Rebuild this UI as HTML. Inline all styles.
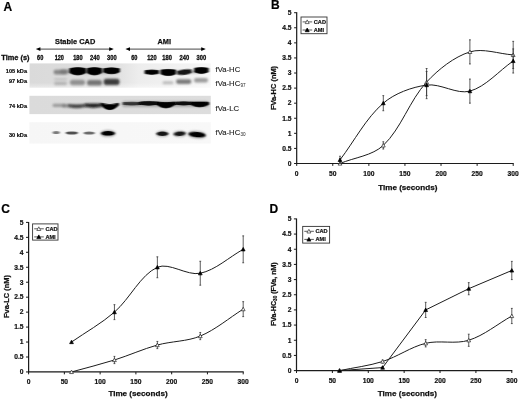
<!DOCTYPE html>
<html><head><meta charset="utf-8"><title>Figure</title>
<style>
html,body{margin:0;padding:0;background:#fff;}
body{width:520px;height:399px;overflow:hidden;font-family:"Liberation Sans",sans-serif;}
svg{display:block;}
</style></head><body>
<svg width="520" height="399" viewBox="0 0 520 399">
<defs>
<filter id="b1" x="-30%" y="-80%" width="160%" height="260%"><feGaussianBlur stdDeviation="1.0 0.75"/></filter>
<filter id="b2" x="-30%" y="-80%" width="160%" height="260%"><feGaussianBlur stdDeviation="1.1 0.8"/></filter>
<filter id="soft" x="0" y="0" width="520" height="399" filterUnits="userSpaceOnUse"><feGaussianBlur stdDeviation="0.35"/></filter>
<filter id="b3" x="-40%" y="-100%" width="180%" height="300%"><feGaussianBlur stdDeviation="0.8 0.65"/></filter>
<linearGradient id="g1" x1="0" x2="1" y1="0" y2="0"><stop offset="0" stop-color="#dadada"/><stop offset="0.46" stop-color="#dedede"/><stop offset="0.6" stop-color="#ededed"/><stop offset="0.9" stop-color="#f3f3f3"/><stop offset="1" stop-color="#f7f7f7"/></linearGradient>
<linearGradient id="g1v" x1="0" x2="0" y1="0" y2="1"><stop offset="0" stop-color="#fff" stop-opacity="0"/><stop offset="0.8" stop-color="#fff" stop-opacity="0"/><stop offset="1" stop-color="#fff" stop-opacity="0.45"/></linearGradient>
<linearGradient id="g2" x1="0" x2="1" y1="0" y2="0"><stop offset="0" stop-color="#dbdbdb"/><stop offset="1" stop-color="#dddddd"/></linearGradient>
<linearGradient id="g3" x1="0" x2="1" y1="0" y2="0"><stop offset="0" stop-color="#f6f6f6"/><stop offset="1" stop-color="#f8f8f8"/></linearGradient>
</defs>
<rect width="520" height="399" fill="#fff"/>
<g filter="url(#soft)">
<text x="3.60" y="10.70" font-family="Liberation Sans, sans-serif" font-weight="bold" font-size="12" fill="#000" stroke="#000" stroke-width="0.2">A</text>
<text x="270.90" y="9.40" font-family="Liberation Sans, sans-serif" font-weight="bold" font-size="12" fill="#000" stroke="#000" stroke-width="0.2">B</text>
<text x="1.20" y="212.70" font-family="Liberation Sans, sans-serif" font-weight="bold" font-size="12" fill="#000" stroke="#000" stroke-width="0.2">C</text>
<text x="269.40" y="213.00" font-family="Liberation Sans, sans-serif" font-weight="bold" font-size="12" fill="#000" stroke="#000" stroke-width="0.2">D</text>
<rect x="29.6" y="63.4" width="181.2" height="24.2" fill="url(#g1)"/>
<rect x="29.6" y="63.4" width="181.2" height="24.2" fill="url(#g1v)"/>
<rect x="29.4" y="95.8" width="181.4" height="18.3" fill="url(#g2)"/>
<rect x="29.4" y="122.2" width="181.4" height="21.4" fill="url(#g3)"/>
<rect x="53.50" y="69.80" width="14.00" height="4.60" rx="2.30" ry="2.30" fill="#555" opacity="0.62" filter="url(#b2)"/>
<rect x="60.00" y="69.50" width="59.00" height="4.00" rx="2.00" ry="2.00" fill="#666" opacity="0.50" filter="url(#b2)"/>
<path d="M69.80 68.50 Q77.80 66.70 85.80 68.50 L85.80 72.70 Q77.80 77.30 69.80 72.70 Z" fill="#000" opacity="1.00" filter="url(#b1)" stroke="#000" stroke-width="0.8" stroke-linejoin="round"/>
<path d="M87.10 68.50 Q94.40 66.70 101.70 68.50 L101.70 72.70 Q94.40 77.30 87.10 72.70 Z" fill="#000" opacity="1.00" filter="url(#b1)" stroke="#000" stroke-width="0.8" stroke-linejoin="round"/>
<path d="M103.60 68.70 Q111.50 66.90 119.40 68.70 L119.40 71.90 Q111.50 75.70 103.60 71.90 Z" fill="#000" opacity="1.00" filter="url(#b1)" stroke="#000" stroke-width="0.8" stroke-linejoin="round"/>
<rect x="54.00" y="78.60" width="13.00" height="1.40" rx="0.70" ry="0.70" fill="#777" opacity="0.35" filter="url(#b2)"/>
<rect x="54.00" y="81.80" width="13.00" height="3.40" rx="1.70" ry="1.70" fill="#777" opacity="0.40" filter="url(#b2)"/>
<rect x="70.00" y="79.80" width="15.00" height="5.40" rx="2.70" ry="2.70" fill="#555" opacity="0.55" filter="url(#b2)"/>
<rect x="87.00" y="80.00" width="15.00" height="5.60" rx="2.80" ry="2.80" fill="#444" opacity="0.68" filter="url(#b2)"/>
<rect x="103.60" y="78.80" width="16.00" height="6.20" rx="3.10" ry="3.10" fill="#222" opacity="0.85" filter="url(#b2)"/>
<rect x="150.00" y="70.80" width="55.00" height="2.40" rx="1.20" ry="1.20" fill="#555" opacity="0.45" filter="url(#b2)"/>
<path d="M145.00 70.60 Q151.70 69.40 158.40 70.60 L158.40 73.60 Q151.70 75.20 145.00 73.60 Z" fill="#000" opacity="1.00" filter="url(#b1)" stroke="#000" stroke-width="0.8" stroke-linejoin="round"/>
<path d="M161.00 70.00 Q168.30 68.80 175.60 70.00 L175.60 74.00 Q168.30 77.20 161.00 74.00 Z" fill="#000" opacity="1.00" filter="url(#b1)" stroke="#000" stroke-width="0.8" stroke-linejoin="round"/>
<g transform="rotate(-7 184.5 72)"><path d="M177.60 70.50 Q184.40 69.10 191.20 70.50 L191.20 73.50 Q184.40 75.70 177.60 73.50 Z" fill="#111" opacity="0.95" filter="url(#b1)" stroke="#111" stroke-width="0.8" stroke-linejoin="round"/></g>
<path d="M194.60 68.20 Q201.40 66.80 208.20 68.20 L208.20 72.00 Q201.40 75.00 194.60 72.00 Z" fill="#000" opacity="1.00" filter="url(#b1)" stroke="#000" stroke-width="0.8" stroke-linejoin="round"/>
<rect x="162.50" y="81.20" width="11.00" height="3.00" rx="1.50" ry="1.50" fill="#888" opacity="0.50" filter="url(#b2)"/>
<rect x="176.00" y="79.20" width="15.40" height="4.80" rx="2.40" ry="2.40" fill="#444" opacity="0.68" filter="url(#b2)"/>
<rect x="194.00" y="78.00" width="14.00" height="4.40" rx="2.20" ry="2.20" fill="#555" opacity="0.55" filter="url(#b2)"/>
<rect x="52.50" y="103.70" width="14.00" height="3.20" rx="1.60" ry="1.60" fill="#666" opacity="0.55" filter="url(#b2)"/>
<rect x="62.00" y="104.60" width="42.00" height="2.80" rx="1.40" ry="1.40" fill="#555" opacity="0.45" filter="url(#b2)"/>
<path d="M68.00 104.70 Q76.60 105.50 85.20 104.70 L85.20 106.10 Q76.60 109.30 68.00 106.10 Z" fill="#222" opacity="0.78" filter="url(#b2)" stroke="#222" stroke-width="0.8" stroke-linejoin="round"/>
<path d="M85.00 104.10 Q93.30 103.70 101.60 104.10 L101.60 105.90 Q93.30 108.70 85.00 105.90 Z" fill="#111" opacity="0.90" filter="url(#b2)" stroke="#111" stroke-width="0.8" stroke-linejoin="round"/>
<path d="M101.00 103.20 Q109.80 106.20 118.60 103.20 L118.60 105.20 Q109.80 114.20 101.00 105.20 Z" fill="#000" opacity="1.00" filter="url(#b1)" stroke="#000" stroke-width="0.8" stroke-linejoin="round"/>
<rect x="121.80" y="101.20" width="87.20" height="5.80" rx="2.90" ry="2.90" fill="#555" opacity="0.40" filter="url(#b2)"/>
<rect x="138.00" y="102.30" width="70.20" height="2.70" rx="1.35" ry="1.35" fill="#222" opacity="0.88" filter="url(#b1)"/>
<path d="M123.20 102.60 Q132.10 102.00 141.00 102.60 L141.00 104.40 Q132.10 105.80 123.20 104.40 Z" fill="#222" opacity="0.85" filter="url(#b1)" stroke="#222" stroke-width="0.8" stroke-linejoin="round"/>
<path d="M139.80 102.10 Q148.80 100.70 157.80 102.10 L157.80 104.30 Q148.80 106.10 139.80 104.30 Z" fill="#0a0a0a" opacity="1.00" filter="url(#b1)" stroke="#0a0a0a" stroke-width="0.8" stroke-linejoin="round"/>
<path d="M156.60 102.00 Q165.90 103.60 175.20 102.00 L175.20 104.40 Q165.90 111.60 156.60 104.40 Z" fill="#000" opacity="1.00" filter="url(#b1)" stroke="#000" stroke-width="0.8" stroke-linejoin="round"/>
<path d="M175.60 102.20 Q183.70 101.20 191.80 102.20 L191.80 104.20 Q183.70 106.00 175.60 104.20 Z" fill="#111" opacity="0.95" filter="url(#b1)" stroke="#111" stroke-width="0.8" stroke-linejoin="round"/>
<path d="M190.80 102.20 Q199.60 102.00 208.40 102.20 L208.40 104.60 Q199.60 109.20 190.80 104.60 Z" fill="#000" opacity="1.00" filter="url(#b1)" stroke="#000" stroke-width="0.8" stroke-linejoin="round"/>
<ellipse cx="56.20" cy="132.40" rx="3.60" ry="1.50" fill="#444" opacity="0.70" filter="url(#b3)"/>
<ellipse cx="71.80" cy="133.00" rx="6.20" ry="1.60" fill="#333" opacity="0.85" filter="url(#b3)"/>
<ellipse cx="89.20" cy="133.00" rx="5.60" ry="1.60" fill="#444" opacity="0.78" filter="url(#b3)"/>
<ellipse cx="108.00" cy="133.40" rx="7.80" ry="3.20" fill="#333" opacity="0.50" filter="url(#b2)"/>
<ellipse cx="108.00" cy="133.30" rx="6.60" ry="2.30" fill="#000" opacity="1.00" filter="url(#b3)"/>
<ellipse cx="162.40" cy="133.80" rx="6.80" ry="3.00" fill="#444" opacity="0.40" filter="url(#b2)"/>
<ellipse cx="162.40" cy="133.80" rx="5.80" ry="2.20" fill="#0a0a0a" opacity="0.95" filter="url(#b3)"/>
<ellipse cx="179.70" cy="133.80" rx="6.90" ry="3.00" fill="#444" opacity="0.40" filter="url(#b2)"/>
<ellipse cx="179.70" cy="133.80" rx="5.90" ry="2.20" fill="#111" opacity="0.92" filter="url(#b3)" transform="rotate(-5 179.70 133.80)"/>
<ellipse cx="197.00" cy="134.80" rx="9.40" ry="3.50" fill="#333" opacity="0.50" filter="url(#b2)" transform="rotate(5 197.00 134.80)"/>
<ellipse cx="197.10" cy="134.70" rx="8.30" ry="2.60" fill="#000" opacity="1.00" filter="url(#b3)" transform="rotate(5 197.10 134.70)"/>
<text x="75.1" y="43.5" text-anchor="middle" font-family="Liberation Sans, sans-serif" font-weight="bold" font-size="7.4" fill="#111" stroke="#111" stroke-width="0.25">Stable CAD</text>
<text x="164.3" y="43.7" text-anchor="middle" font-family="Liberation Sans, sans-serif" font-weight="bold" font-size="7.4" fill="#111" stroke="#111" stroke-width="0.25">AMI</text>
<path d="M38.80 49.1 H110.80" stroke="#333" stroke-width="0.9"/>
<path d="M35.80 49.1 l4.6 -1.9 v3.8 z M113.80 49.1 l-4.6 -1.9 v3.8 z" fill="#000"/>
<path d="M128.40 49.1 H202.80" stroke="#333" stroke-width="0.9"/>
<path d="M125.40 49.1 l4.6 -1.9 v3.8 z M205.80 49.1 l-4.6 -1.9 v3.8 z" fill="#000"/>
<text x="1.3" y="60.0" font-family="Liberation Sans, sans-serif" font-weight="bold" font-size="7.4" fill="#111" stroke="#111" stroke-width="0.3">Time (s)</text>
<text x="37.10" y="60.10" textLength="6.20" lengthAdjust="spacingAndGlyphs" font-family="Liberation Sans, sans-serif" font-weight="bold" font-size="6.40" fill="#111" stroke="#111" stroke-width="0.30">60</text>
<text x="54.70" y="60.10" textLength="9.20" lengthAdjust="spacingAndGlyphs" font-family="Liberation Sans, sans-serif" font-weight="bold" font-size="6.40" fill="#111" stroke="#111" stroke-width="0.30">120</text>
<text x="73.20" y="60.10" textLength="9.40" lengthAdjust="spacingAndGlyphs" font-family="Liberation Sans, sans-serif" font-weight="bold" font-size="6.40" fill="#111" stroke="#111" stroke-width="0.30">180</text>
<text x="90.00" y="60.10" textLength="9.70" lengthAdjust="spacingAndGlyphs" font-family="Liberation Sans, sans-serif" font-weight="bold" font-size="6.40" fill="#111" stroke="#111" stroke-width="0.30">240</text>
<text x="107.10" y="60.10" textLength="9.60" lengthAdjust="spacingAndGlyphs" font-family="Liberation Sans, sans-serif" font-weight="bold" font-size="6.40" fill="#111" stroke="#111" stroke-width="0.30">300</text>
<text x="131.20" y="60.10" textLength="6.20" lengthAdjust="spacingAndGlyphs" font-family="Liberation Sans, sans-serif" font-weight="bold" font-size="6.40" fill="#111" stroke="#111" stroke-width="0.30">60</text>
<text x="147.20" y="60.10" textLength="9.50" lengthAdjust="spacingAndGlyphs" font-family="Liberation Sans, sans-serif" font-weight="bold" font-size="6.40" fill="#111" stroke="#111" stroke-width="0.30">120</text>
<text x="162.30" y="60.10" textLength="9.60" lengthAdjust="spacingAndGlyphs" font-family="Liberation Sans, sans-serif" font-weight="bold" font-size="6.40" fill="#111" stroke="#111" stroke-width="0.30">180</text>
<text x="179.60" y="60.10" textLength="9.60" lengthAdjust="spacingAndGlyphs" font-family="Liberation Sans, sans-serif" font-weight="bold" font-size="6.40" fill="#111" stroke="#111" stroke-width="0.30">240</text>
<text x="196.50" y="60.10" textLength="9.60" lengthAdjust="spacingAndGlyphs" font-family="Liberation Sans, sans-serif" font-weight="bold" font-size="6.40" fill="#111" stroke="#111" stroke-width="0.30">300</text>
<text x="27.0" y="72.50" text-anchor="end" font-family="Liberation Sans, sans-serif" font-weight="bold" font-size="5.6" fill="#111" stroke="#111" stroke-width="0.2">105 kDa</text>
<text x="27.0" y="82.80" text-anchor="end" font-family="Liberation Sans, sans-serif" font-weight="bold" font-size="5.6" fill="#111" stroke="#111" stroke-width="0.2">97 kDa</text>
<text x="27.0" y="108.00" text-anchor="end" font-family="Liberation Sans, sans-serif" font-weight="bold" font-size="5.6" fill="#111" stroke="#111" stroke-width="0.2">74 kDa</text>
<text x="27.0" y="137.00" text-anchor="end" font-family="Liberation Sans, sans-serif" font-weight="bold" font-size="5.6" fill="#111" stroke="#111" stroke-width="0.2">30 kDa</text>
<text x="215.6" y="72.40" font-family="Liberation Sans, sans-serif" font-size="8.0" fill="#1a1a1a" stroke="#1a1a1a" stroke-width="0.12" textLength="24.6" lengthAdjust="spacingAndGlyphs">fVa-HC</text>
<text x="215.6" y="85.80" font-family="Liberation Sans, sans-serif" font-size="8.0" fill="#1a1a1a" stroke="#1a1a1a" stroke-width="0.12" textLength="24.6" lengthAdjust="spacingAndGlyphs">fVa-HC</text><text x="240.4" y="87.40" font-family="Liberation Sans, sans-serif" font-size="4.6" fill="#222">97</text>
<text x="215.6" y="110.60" font-family="Liberation Sans, sans-serif" font-size="8.0" fill="#1a1a1a" stroke="#1a1a1a" stroke-width="0.12" textLength="23.4" lengthAdjust="spacingAndGlyphs">fVa-LC</text>
<text x="215.6" y="134.80" font-family="Liberation Sans, sans-serif" font-size="8.0" fill="#1a1a1a" stroke="#1a1a1a" stroke-width="0.12" textLength="24.6" lengthAdjust="spacingAndGlyphs">fVa-HC</text><text x="240.4" y="136.40" font-family="Liberation Sans, sans-serif" font-size="4.6" fill="#222">30</text>
<path d="M296.70 12.30 V163.50 H513.70" fill="none" stroke="#1a1a1a" stroke-width="1.2"/>
<path d="M294.10 163.50 H296.70" stroke="#1a1a1a" stroke-width="1"/>
<text x="291.60" y="165.80" text-anchor="end" font-family="Liberation Sans, sans-serif" font-weight="bold" font-size="6.70" fill="#111" stroke="#111" stroke-width="0.2">0</text>
<path d="M294.10 148.42 H296.70" stroke="#1a1a1a" stroke-width="1"/>
<text x="291.60" y="150.72" text-anchor="end" font-family="Liberation Sans, sans-serif" font-weight="bold" font-size="6.70" fill="#111" stroke="#111" stroke-width="0.2">0.5</text>
<path d="M294.10 133.34 H296.70" stroke="#1a1a1a" stroke-width="1"/>
<text x="291.60" y="135.64" text-anchor="end" font-family="Liberation Sans, sans-serif" font-weight="bold" font-size="6.70" fill="#111" stroke="#111" stroke-width="0.2">1</text>
<path d="M294.10 118.26 H296.70" stroke="#1a1a1a" stroke-width="1"/>
<text x="291.60" y="120.56" text-anchor="end" font-family="Liberation Sans, sans-serif" font-weight="bold" font-size="6.70" fill="#111" stroke="#111" stroke-width="0.2">1.5</text>
<path d="M294.10 103.18 H296.70" stroke="#1a1a1a" stroke-width="1"/>
<text x="291.60" y="105.48" text-anchor="end" font-family="Liberation Sans, sans-serif" font-weight="bold" font-size="6.70" fill="#111" stroke="#111" stroke-width="0.2">2</text>
<path d="M294.10 88.10 H296.70" stroke="#1a1a1a" stroke-width="1"/>
<text x="291.60" y="90.40" text-anchor="end" font-family="Liberation Sans, sans-serif" font-weight="bold" font-size="6.70" fill="#111" stroke="#111" stroke-width="0.2">2.5</text>
<path d="M294.10 73.02 H296.70" stroke="#1a1a1a" stroke-width="1"/>
<text x="291.60" y="75.32" text-anchor="end" font-family="Liberation Sans, sans-serif" font-weight="bold" font-size="6.70" fill="#111" stroke="#111" stroke-width="0.2">3</text>
<path d="M294.10 57.94 H296.70" stroke="#1a1a1a" stroke-width="1"/>
<text x="291.60" y="60.24" text-anchor="end" font-family="Liberation Sans, sans-serif" font-weight="bold" font-size="6.70" fill="#111" stroke="#111" stroke-width="0.2">3.5</text>
<path d="M294.10 42.86 H296.70" stroke="#1a1a1a" stroke-width="1"/>
<text x="291.60" y="45.16" text-anchor="end" font-family="Liberation Sans, sans-serif" font-weight="bold" font-size="6.70" fill="#111" stroke="#111" stroke-width="0.2">4</text>
<path d="M294.10 27.78 H296.70" stroke="#1a1a1a" stroke-width="1"/>
<text x="291.60" y="30.08" text-anchor="end" font-family="Liberation Sans, sans-serif" font-weight="bold" font-size="6.70" fill="#111" stroke="#111" stroke-width="0.2">4.5</text>
<path d="M294.10 12.70 H296.70" stroke="#1a1a1a" stroke-width="1"/>
<text x="291.60" y="15.00" text-anchor="end" font-family="Liberation Sans, sans-serif" font-weight="bold" font-size="6.70" fill="#111" stroke="#111" stroke-width="0.2">5</text>
<path d="M296.70 163.50 V165.90" stroke="#1a1a1a" stroke-width="1"/>
<text x="296.70" y="176.20" text-anchor="middle" font-family="Liberation Sans, sans-serif" font-weight="bold" font-size="6.70" fill="#111" stroke="#111" stroke-width="0.2">0</text>
<path d="M332.78 163.50 V165.90" stroke="#1a1a1a" stroke-width="1"/>
<text x="332.78" y="176.20" text-anchor="middle" font-family="Liberation Sans, sans-serif" font-weight="bold" font-size="6.70" fill="#111" stroke="#111" stroke-width="0.2">50</text>
<path d="M368.87 163.50 V165.90" stroke="#1a1a1a" stroke-width="1"/>
<text x="368.87" y="176.20" text-anchor="middle" font-family="Liberation Sans, sans-serif" font-weight="bold" font-size="6.70" fill="#111" stroke="#111" stroke-width="0.2">100</text>
<path d="M404.95 163.50 V165.90" stroke="#1a1a1a" stroke-width="1"/>
<text x="404.95" y="176.20" text-anchor="middle" font-family="Liberation Sans, sans-serif" font-weight="bold" font-size="6.70" fill="#111" stroke="#111" stroke-width="0.2">150</text>
<path d="M441.03 163.50 V165.90" stroke="#1a1a1a" stroke-width="1"/>
<text x="441.03" y="176.20" text-anchor="middle" font-family="Liberation Sans, sans-serif" font-weight="bold" font-size="6.70" fill="#111" stroke="#111" stroke-width="0.2">200</text>
<path d="M477.12 163.50 V165.90" stroke="#1a1a1a" stroke-width="1"/>
<text x="477.12" y="176.20" text-anchor="middle" font-family="Liberation Sans, sans-serif" font-weight="bold" font-size="6.70" fill="#111" stroke="#111" stroke-width="0.2">250</text>
<path d="M513.20 163.50 V165.90" stroke="#1a1a1a" stroke-width="1"/>
<text x="513.20" y="176.20" text-anchor="middle" font-family="Liberation Sans, sans-serif" font-weight="bold" font-size="6.70" fill="#111" stroke="#111" stroke-width="0.2">300</text>
<text x="407.80" y="189.60" text-anchor="middle" font-family="Liberation Sans, sans-serif" font-weight="bold" font-size="8.10" fill="#111" stroke="#111" stroke-width="0.25">Time (seconds)</text>
<text transform="translate(276.20 88.00) rotate(-90)" text-anchor="middle" font-family="Liberation Sans, sans-serif" font-weight="bold" font-size="7.45" fill="#111" stroke="#111" stroke-width="0.25">FVa-HC (nM)</text>
<path d="M340.00 163.50 C354.43 157.47 372.34 155.71 383.30 145.40 C401.21 128.56 409.50 100.53 426.60 82.07 C438.36 69.37 454.06 56.87 469.90 51.91 C482.93 47.82 498.77 53.92 513.20 54.92" fill="none" stroke="#1c1c1c" stroke-width="1.0"/>
<path d="M340.00 159.88 C354.43 140.98 365.89 118.22 383.30 103.18 C394.75 93.29 411.66 87.17 426.60 85.08 C440.52 83.14 456.82 94.76 469.90 91.12 C485.69 86.72 498.77 71.01 513.20 60.96" fill="none" stroke="#1c1c1c" stroke-width="1.0"/>
<path d="M383.30 141.78 V149.02 M382.40 141.78 h1.8 M382.40 149.02 h1.8" stroke="#333" stroke-width="0.8" fill="none"/>
<path d="M426.60 68.50 V95.64 M425.70 68.50 h1.8 M425.70 95.64 h1.8" stroke="#333" stroke-width="0.8" fill="none"/>
<path d="M469.90 39.84 V63.97 M469.00 39.84 h1.8 M469.00 63.97 h1.8" stroke="#333" stroke-width="0.8" fill="none"/>
<path d="M513.20 41.35 V68.50 M512.30 41.35 h1.8 M512.30 68.50 h1.8" stroke="#333" stroke-width="0.8" fill="none"/>
<path d="M340.00 161.60 L341.90 165.12 L338.10 165.12 Z" fill="#fff" stroke="#222" stroke-width="0.7"/>
<path d="M383.30 143.50 L385.20 147.02 L381.40 147.02 Z" fill="#fff" stroke="#222" stroke-width="0.7"/>
<path d="M426.60 80.17 L428.50 83.68 L424.70 83.68 Z" fill="#fff" stroke="#222" stroke-width="0.7"/>
<path d="M469.90 50.01 L471.80 53.52 L468.00 53.52 Z" fill="#fff" stroke="#222" stroke-width="0.7"/>
<path d="M513.20 53.02 L515.10 56.54 L511.30 56.54 Z" fill="#fff" stroke="#222" stroke-width="0.7"/>
<path d="M340.00 156.26 V163.50 M339.10 156.26 h1.8 M339.10 163.50 h1.8" stroke="#333" stroke-width="0.8" fill="none"/>
<path d="M383.30 95.64 V110.72 M382.40 95.64 h1.8 M382.40 110.72 h1.8" stroke="#333" stroke-width="0.8" fill="none"/>
<path d="M426.60 71.51 V98.66 M425.70 71.51 h1.8 M425.70 98.66 h1.8" stroke="#333" stroke-width="0.8" fill="none"/>
<path d="M469.90 79.05 V103.18 M469.00 79.05 h1.8 M469.00 103.18 h1.8" stroke="#333" stroke-width="0.8" fill="none"/>
<path d="M513.20 48.89 V73.02 M512.30 48.89 h1.8 M512.30 73.02 h1.8" stroke="#333" stroke-width="0.8" fill="none"/>
<path d="M340.00 157.98 L341.90 161.50 L338.10 161.50 Z" fill="#000" stroke="#000" stroke-width="0.7"/>
<path d="M383.30 101.28 L385.20 104.79 L381.40 104.79 Z" fill="#000" stroke="#000" stroke-width="0.7"/>
<path d="M426.60 83.18 L428.50 86.70 L424.70 86.70 Z" fill="#000" stroke="#000" stroke-width="0.7"/>
<path d="M469.90 89.22 L471.80 92.73 L468.00 92.73 Z" fill="#000" stroke="#000" stroke-width="0.7"/>
<path d="M513.20 59.06 L515.10 62.57 L511.30 62.57 Z" fill="#000" stroke="#000" stroke-width="0.7"/>
<rect x="301.00" y="17.00" width="26.00" height="16.70" fill="#fff" stroke="#333" stroke-width="0.9"/>
<path d="M302.60 21.90 h9.6 M302.60 30.00 h9.6" stroke="#333" stroke-width="0.8"/>
<path d="M307.20 19.90 L309.20 23.60 L305.20 23.60 Z" fill="#fff" stroke="#333" stroke-width="0.7"/>
<path d="M307.20 28.00 L309.20 31.70 L305.20 31.70 Z" fill="#000" stroke="#000" stroke-width="0.7"/>
<text x="313.80" y="23.90" font-family="Liberation Sans, sans-serif" font-weight="bold" font-size="5.6" fill="#111" stroke="#111" stroke-width="0.2">CAD</text>
<text x="313.80" y="32.00" font-family="Liberation Sans, sans-serif" font-weight="bold" font-size="5.6" fill="#111" stroke="#111" stroke-width="0.2">AMI</text>
<path d="M28.60 222.00 V371.95 H243.70" fill="none" stroke="#1a1a1a" stroke-width="1.2"/>
<path d="M26.00 371.95 H28.60" stroke="#1a1a1a" stroke-width="1"/>
<text x="23.60" y="374.25" text-anchor="end" font-family="Liberation Sans, sans-serif" font-weight="bold" font-size="6.70" fill="#111" stroke="#111" stroke-width="0.2">0</text>
<path d="M26.00 357.00 H28.60" stroke="#1a1a1a" stroke-width="1"/>
<text x="23.60" y="359.30" text-anchor="end" font-family="Liberation Sans, sans-serif" font-weight="bold" font-size="6.70" fill="#111" stroke="#111" stroke-width="0.2">0.5</text>
<path d="M26.00 342.04 H28.60" stroke="#1a1a1a" stroke-width="1"/>
<text x="23.60" y="344.34" text-anchor="end" font-family="Liberation Sans, sans-serif" font-weight="bold" font-size="6.70" fill="#111" stroke="#111" stroke-width="0.2">1</text>
<path d="M26.00 327.08 H28.60" stroke="#1a1a1a" stroke-width="1"/>
<text x="23.60" y="329.38" text-anchor="end" font-family="Liberation Sans, sans-serif" font-weight="bold" font-size="6.70" fill="#111" stroke="#111" stroke-width="0.2">1.5</text>
<path d="M26.00 312.13 H28.60" stroke="#1a1a1a" stroke-width="1"/>
<text x="23.60" y="314.43" text-anchor="end" font-family="Liberation Sans, sans-serif" font-weight="bold" font-size="6.70" fill="#111" stroke="#111" stroke-width="0.2">2</text>
<path d="M26.00 297.18 H28.60" stroke="#1a1a1a" stroke-width="1"/>
<text x="23.60" y="299.48" text-anchor="end" font-family="Liberation Sans, sans-serif" font-weight="bold" font-size="6.70" fill="#111" stroke="#111" stroke-width="0.2">2.5</text>
<path d="M26.00 282.22 H28.60" stroke="#1a1a1a" stroke-width="1"/>
<text x="23.60" y="284.52" text-anchor="end" font-family="Liberation Sans, sans-serif" font-weight="bold" font-size="6.70" fill="#111" stroke="#111" stroke-width="0.2">3</text>
<path d="M26.00 267.26 H28.60" stroke="#1a1a1a" stroke-width="1"/>
<text x="23.60" y="269.56" text-anchor="end" font-family="Liberation Sans, sans-serif" font-weight="bold" font-size="6.70" fill="#111" stroke="#111" stroke-width="0.2">3.5</text>
<path d="M26.00 252.31 H28.60" stroke="#1a1a1a" stroke-width="1"/>
<text x="23.60" y="254.61" text-anchor="end" font-family="Liberation Sans, sans-serif" font-weight="bold" font-size="6.70" fill="#111" stroke="#111" stroke-width="0.2">4</text>
<path d="M26.00 237.36 H28.60" stroke="#1a1a1a" stroke-width="1"/>
<text x="23.60" y="239.66" text-anchor="end" font-family="Liberation Sans, sans-serif" font-weight="bold" font-size="6.70" fill="#111" stroke="#111" stroke-width="0.2">4.5</text>
<path d="M26.00 222.40 H28.60" stroke="#1a1a1a" stroke-width="1"/>
<text x="23.60" y="224.70" text-anchor="end" font-family="Liberation Sans, sans-serif" font-weight="bold" font-size="6.70" fill="#111" stroke="#111" stroke-width="0.2">5</text>
<path d="M28.60 371.95 V374.35" stroke="#1a1a1a" stroke-width="1"/>
<text x="28.60" y="384.30" text-anchor="middle" font-family="Liberation Sans, sans-serif" font-weight="bold" font-size="6.70" fill="#111" stroke="#111" stroke-width="0.2">0</text>
<path d="M64.37 371.95 V374.35" stroke="#1a1a1a" stroke-width="1"/>
<text x="64.37" y="384.30" text-anchor="middle" font-family="Liberation Sans, sans-serif" font-weight="bold" font-size="6.70" fill="#111" stroke="#111" stroke-width="0.2">50</text>
<path d="M100.13 371.95 V374.35" stroke="#1a1a1a" stroke-width="1"/>
<text x="100.13" y="384.30" text-anchor="middle" font-family="Liberation Sans, sans-serif" font-weight="bold" font-size="6.70" fill="#111" stroke="#111" stroke-width="0.2">100</text>
<path d="M135.90 371.95 V374.35" stroke="#1a1a1a" stroke-width="1"/>
<text x="135.90" y="384.30" text-anchor="middle" font-family="Liberation Sans, sans-serif" font-weight="bold" font-size="6.70" fill="#111" stroke="#111" stroke-width="0.2">150</text>
<path d="M171.67 371.95 V374.35" stroke="#1a1a1a" stroke-width="1"/>
<text x="171.67" y="384.30" text-anchor="middle" font-family="Liberation Sans, sans-serif" font-weight="bold" font-size="6.70" fill="#111" stroke="#111" stroke-width="0.2">200</text>
<path d="M207.43 371.95 V374.35" stroke="#1a1a1a" stroke-width="1"/>
<text x="207.43" y="384.30" text-anchor="middle" font-family="Liberation Sans, sans-serif" font-weight="bold" font-size="6.70" fill="#111" stroke="#111" stroke-width="0.2">250</text>
<path d="M243.20 371.95 V374.35" stroke="#1a1a1a" stroke-width="1"/>
<text x="243.20" y="384.30" text-anchor="middle" font-family="Liberation Sans, sans-serif" font-weight="bold" font-size="6.70" fill="#111" stroke="#111" stroke-width="0.2">300</text>
<text x="138.00" y="396.00" text-anchor="middle" font-family="Liberation Sans, sans-serif" font-weight="bold" font-size="8.10" fill="#111" stroke="#111" stroke-width="0.25">Time (seconds)</text>
<text transform="translate(9.40 296.50) rotate(-90)" text-anchor="middle" font-family="Liberation Sans, sans-serif" font-weight="bold" font-size="7.45" fill="#111" stroke="#111" stroke-width="0.25">Fva-LC (nM)</text>
<path d="M71.52 371.95 C85.83 367.96 100.28 364.43 114.44 359.99 C128.89 355.45 142.80 349.09 157.36 345.03 C171.41 341.11 187.00 341.61 200.28 336.06 C215.62 329.64 228.89 318.11 243.20 309.14" fill="none" stroke="#1c1c1c" stroke-width="1.0"/>
<path d="M71.52 342.04 C85.83 332.07 101.36 323.53 114.44 312.13 C129.97 298.60 140.51 274.90 157.36 267.26 C169.12 261.94 186.87 276.05 200.28 273.25 C215.48 270.07 228.89 257.30 243.20 249.32" fill="none" stroke="#1c1c1c" stroke-width="1.0"/>
<path d="M114.44 356.40 V363.58 M113.54 356.40 h1.8 M113.54 363.58 h1.8" stroke="#333" stroke-width="0.8" fill="none"/>
<path d="M157.36 341.44 V348.62 M156.46 341.44 h1.8 M156.46 348.62 h1.8" stroke="#333" stroke-width="0.8" fill="none"/>
<path d="M200.28 332.47 V339.65 M199.38 332.47 h1.8 M199.38 339.65 h1.8" stroke="#333" stroke-width="0.8" fill="none"/>
<path d="M243.20 301.66 V316.62 M242.30 301.66 h1.8 M242.30 316.62 h1.8" stroke="#333" stroke-width="0.8" fill="none"/>
<path d="M71.52 370.05 L73.42 373.56 L69.62 373.56 Z" fill="#fff" stroke="#222" stroke-width="0.7"/>
<path d="M114.44 358.09 L116.34 361.60 L112.54 361.60 Z" fill="#fff" stroke="#222" stroke-width="0.7"/>
<path d="M157.36 343.13 L159.26 346.65 L155.46 346.65 Z" fill="#fff" stroke="#222" stroke-width="0.7"/>
<path d="M200.28 334.16 L202.18 337.67 L198.38 337.67 Z" fill="#fff" stroke="#222" stroke-width="0.7"/>
<path d="M243.20 307.24 L245.10 310.75 L241.30 310.75 Z" fill="#fff" stroke="#222" stroke-width="0.7"/>
<path d="M114.44 304.65 V319.61 M113.54 304.65 h1.8 M113.54 319.61 h1.8" stroke="#333" stroke-width="0.8" fill="none"/>
<path d="M157.36 256.80 V277.73 M156.46 256.80 h1.8 M156.46 277.73 h1.8" stroke="#333" stroke-width="0.8" fill="none"/>
<path d="M200.28 261.28 V285.21 M199.38 261.28 h1.8 M199.38 285.21 h1.8" stroke="#333" stroke-width="0.8" fill="none"/>
<path d="M243.20 235.86 V262.78 M242.30 235.86 h1.8 M242.30 262.78 h1.8" stroke="#333" stroke-width="0.8" fill="none"/>
<path d="M71.52 340.14 L73.42 343.65 L69.62 343.65 Z" fill="#000" stroke="#000" stroke-width="0.7"/>
<path d="M114.44 310.23 L116.34 313.75 L112.54 313.75 Z" fill="#000" stroke="#000" stroke-width="0.7"/>
<path d="M157.36 265.37 L159.26 268.88 L155.46 268.88 Z" fill="#000" stroke="#000" stroke-width="0.7"/>
<path d="M200.28 271.35 L202.18 274.86 L198.38 274.86 Z" fill="#000" stroke="#000" stroke-width="0.7"/>
<path d="M243.20 247.42 L245.10 250.93 L241.30 250.93 Z" fill="#000" stroke="#000" stroke-width="0.7"/>
<rect x="32.60" y="223.90" width="25.40" height="16.20" fill="#fff" stroke="#333" stroke-width="0.9"/>
<path d="M34.20 228.80 h9.6 M34.20 236.90 h9.6" stroke="#333" stroke-width="0.8"/>
<path d="M38.80 226.80 L40.80 230.50 L36.80 230.50 Z" fill="#fff" stroke="#333" stroke-width="0.7"/>
<path d="M38.80 234.90 L40.80 238.60 L36.80 238.60 Z" fill="#000" stroke="#000" stroke-width="0.7"/>
<text x="45.40" y="230.80" font-family="Liberation Sans, sans-serif" font-weight="bold" font-size="5.6" fill="#111" stroke="#111" stroke-width="0.2">CAD</text>
<text x="45.40" y="238.90" font-family="Liberation Sans, sans-serif" font-weight="bold" font-size="5.6" fill="#111" stroke="#111" stroke-width="0.2">AMI</text>
<path d="M296.50 218.50 V370.60 H512.30" fill="none" stroke="#1a1a1a" stroke-width="1.2"/>
<path d="M293.90 370.60 H296.50" stroke="#1a1a1a" stroke-width="1"/>
<text x="291.60" y="372.90" text-anchor="end" font-family="Liberation Sans, sans-serif" font-weight="bold" font-size="6.70" fill="#111" stroke="#111" stroke-width="0.2">0</text>
<path d="M293.90 355.43 H296.50" stroke="#1a1a1a" stroke-width="1"/>
<text x="291.60" y="357.73" text-anchor="end" font-family="Liberation Sans, sans-serif" font-weight="bold" font-size="6.70" fill="#111" stroke="#111" stroke-width="0.2">0.5</text>
<path d="M293.90 340.26 H296.50" stroke="#1a1a1a" stroke-width="1"/>
<text x="291.60" y="342.56" text-anchor="end" font-family="Liberation Sans, sans-serif" font-weight="bold" font-size="6.70" fill="#111" stroke="#111" stroke-width="0.2">1</text>
<path d="M293.90 325.09 H296.50" stroke="#1a1a1a" stroke-width="1"/>
<text x="291.60" y="327.39" text-anchor="end" font-family="Liberation Sans, sans-serif" font-weight="bold" font-size="6.70" fill="#111" stroke="#111" stroke-width="0.2">1.5</text>
<path d="M293.90 309.92 H296.50" stroke="#1a1a1a" stroke-width="1"/>
<text x="291.60" y="312.22" text-anchor="end" font-family="Liberation Sans, sans-serif" font-weight="bold" font-size="6.70" fill="#111" stroke="#111" stroke-width="0.2">2</text>
<path d="M293.90 294.75 H296.50" stroke="#1a1a1a" stroke-width="1"/>
<text x="291.60" y="297.05" text-anchor="end" font-family="Liberation Sans, sans-serif" font-weight="bold" font-size="6.70" fill="#111" stroke="#111" stroke-width="0.2">2.5</text>
<path d="M293.90 279.58 H296.50" stroke="#1a1a1a" stroke-width="1"/>
<text x="291.60" y="281.88" text-anchor="end" font-family="Liberation Sans, sans-serif" font-weight="bold" font-size="6.70" fill="#111" stroke="#111" stroke-width="0.2">3</text>
<path d="M293.90 264.41 H296.50" stroke="#1a1a1a" stroke-width="1"/>
<text x="291.60" y="266.71" text-anchor="end" font-family="Liberation Sans, sans-serif" font-weight="bold" font-size="6.70" fill="#111" stroke="#111" stroke-width="0.2">3.5</text>
<path d="M293.90 249.24 H296.50" stroke="#1a1a1a" stroke-width="1"/>
<text x="291.60" y="251.54" text-anchor="end" font-family="Liberation Sans, sans-serif" font-weight="bold" font-size="6.70" fill="#111" stroke="#111" stroke-width="0.2">4</text>
<path d="M293.90 234.07 H296.50" stroke="#1a1a1a" stroke-width="1"/>
<text x="291.60" y="236.37" text-anchor="end" font-family="Liberation Sans, sans-serif" font-weight="bold" font-size="6.70" fill="#111" stroke="#111" stroke-width="0.2">4.5</text>
<path d="M293.90 218.90 H296.50" stroke="#1a1a1a" stroke-width="1"/>
<text x="291.60" y="221.20" text-anchor="end" font-family="Liberation Sans, sans-serif" font-weight="bold" font-size="6.70" fill="#111" stroke="#111" stroke-width="0.2">5</text>
<path d="M296.50 370.60 V373.00" stroke="#1a1a1a" stroke-width="1"/>
<text x="296.50" y="383.00" text-anchor="middle" font-family="Liberation Sans, sans-serif" font-weight="bold" font-size="6.70" fill="#111" stroke="#111" stroke-width="0.2">0</text>
<path d="M332.38 370.60 V373.00" stroke="#1a1a1a" stroke-width="1"/>
<text x="332.38" y="383.00" text-anchor="middle" font-family="Liberation Sans, sans-serif" font-weight="bold" font-size="6.70" fill="#111" stroke="#111" stroke-width="0.2">50</text>
<path d="M368.27 370.60 V373.00" stroke="#1a1a1a" stroke-width="1"/>
<text x="368.27" y="383.00" text-anchor="middle" font-family="Liberation Sans, sans-serif" font-weight="bold" font-size="6.70" fill="#111" stroke="#111" stroke-width="0.2">100</text>
<path d="M404.15 370.60 V373.00" stroke="#1a1a1a" stroke-width="1"/>
<text x="404.15" y="383.00" text-anchor="middle" font-family="Liberation Sans, sans-serif" font-weight="bold" font-size="6.70" fill="#111" stroke="#111" stroke-width="0.2">150</text>
<path d="M440.03 370.60 V373.00" stroke="#1a1a1a" stroke-width="1"/>
<text x="440.03" y="383.00" text-anchor="middle" font-family="Liberation Sans, sans-serif" font-weight="bold" font-size="6.70" fill="#111" stroke="#111" stroke-width="0.2">200</text>
<path d="M475.92 370.60 V373.00" stroke="#1a1a1a" stroke-width="1"/>
<text x="475.92" y="383.00" text-anchor="middle" font-family="Liberation Sans, sans-serif" font-weight="bold" font-size="6.70" fill="#111" stroke="#111" stroke-width="0.2">250</text>
<path d="M511.80 370.60 V373.00" stroke="#1a1a1a" stroke-width="1"/>
<text x="511.80" y="383.00" text-anchor="middle" font-family="Liberation Sans, sans-serif" font-weight="bold" font-size="6.70" fill="#111" stroke="#111" stroke-width="0.2">300</text>
<text x="407.40" y="395.60" text-anchor="middle" font-family="Liberation Sans, sans-serif" font-weight="bold" font-size="8.10" fill="#111" stroke="#111" stroke-width="0.25">Time (seconds)</text>
<text transform="translate(275.60 294.20) rotate(-90)" text-anchor="middle" font-family="Liberation Sans, sans-serif" font-weight="bold" font-size="7.10" fill="#111" stroke="#111" stroke-width="0.25">FVa-HC<tspan font-size="4.6" dy="1.3">30</tspan><tspan dy="-1.3"> (FVa, nM)</tspan></text>
<path d="M339.56 370.60 C353.91 367.57 368.70 365.91 382.62 361.50 C397.41 356.81 410.75 346.97 425.68 343.29 C439.46 339.90 455.36 344.50 468.74 340.26 C484.06 335.40 497.45 324.08 511.80 315.99" fill="none" stroke="#1c1c1c" stroke-width="1.0"/>
<path d="M339.56 370.60 L382.62 367.57 L425.68 309.92 L468.74 288.68 L511.80 270.48" fill="none" stroke="#1c1c1c" stroke-width="1.0"/>
<path d="M382.62 359.98 V363.02 M381.72 359.98 h1.8 M381.72 363.02 h1.8" stroke="#333" stroke-width="0.8" fill="none"/>
<path d="M425.68 339.65 V346.93 M424.78 339.65 h1.8 M424.78 346.93 h1.8" stroke="#333" stroke-width="0.8" fill="none"/>
<path d="M468.74 334.19 V346.33 M467.84 334.19 h1.8 M467.84 346.33 h1.8" stroke="#333" stroke-width="0.8" fill="none"/>
<path d="M511.80 308.40 V323.57 M510.90 308.40 h1.8 M510.90 323.57 h1.8" stroke="#333" stroke-width="0.8" fill="none"/>
<path d="M339.56 368.70 L341.46 372.22 L337.66 372.22 Z" fill="#fff" stroke="#222" stroke-width="0.7"/>
<path d="M382.62 359.60 L384.52 363.11 L380.72 363.11 Z" fill="#fff" stroke="#222" stroke-width="0.7"/>
<path d="M425.68 341.39 L427.58 344.91 L423.78 344.91 Z" fill="#fff" stroke="#222" stroke-width="0.7"/>
<path d="M468.74 338.36 L470.64 341.88 L466.84 341.88 Z" fill="#fff" stroke="#222" stroke-width="0.7"/>
<path d="M511.80 314.09 L513.70 317.60 L509.90 317.60 Z" fill="#fff" stroke="#222" stroke-width="0.7"/>
<path d="M382.62 366.66 V368.48 M381.72 366.66 h1.8 M381.72 368.48 h1.8" stroke="#333" stroke-width="0.8" fill="none"/>
<path d="M425.68 302.34 V317.50 M424.78 302.34 h1.8 M424.78 317.50 h1.8" stroke="#333" stroke-width="0.8" fill="none"/>
<path d="M468.74 282.61 V294.75 M467.84 282.61 h1.8 M467.84 294.75 h1.8" stroke="#333" stroke-width="0.8" fill="none"/>
<path d="M511.80 261.38 V279.58 M510.90 261.38 h1.8 M510.90 279.58 h1.8" stroke="#333" stroke-width="0.8" fill="none"/>
<path d="M339.56 368.70 L341.46 372.22 L337.66 372.22 Z" fill="#000" stroke="#000" stroke-width="0.7"/>
<path d="M382.62 365.67 L384.52 369.18 L380.72 369.18 Z" fill="#000" stroke="#000" stroke-width="0.7"/>
<path d="M425.68 308.02 L427.58 311.54 L423.78 311.54 Z" fill="#000" stroke="#000" stroke-width="0.7"/>
<path d="M468.74 286.78 L470.64 290.30 L466.84 290.30 Z" fill="#000" stroke="#000" stroke-width="0.7"/>
<path d="M511.80 268.58 L513.70 272.09 L509.90 272.09 Z" fill="#000" stroke="#000" stroke-width="0.7"/>
<rect x="302.70" y="226.40" width="26.90" height="16.70" fill="#fff" stroke="#333" stroke-width="0.9"/>
<path d="M304.30 231.30 h9.6 M304.30 239.40 h9.6" stroke="#333" stroke-width="0.8"/>
<path d="M308.90 229.30 L310.90 233.00 L306.90 233.00 Z" fill="#fff" stroke="#333" stroke-width="0.7"/>
<path d="M308.90 237.40 L310.90 241.10 L306.90 241.10 Z" fill="#000" stroke="#000" stroke-width="0.7"/>
<text x="315.50" y="233.30" font-family="Liberation Sans, sans-serif" font-weight="bold" font-size="5.6" fill="#111" stroke="#111" stroke-width="0.2">CAD</text>
<text x="315.50" y="241.40" font-family="Liberation Sans, sans-serif" font-weight="bold" font-size="5.6" fill="#111" stroke="#111" stroke-width="0.2">AMI</text>
</g>
</svg>
</body></html>
